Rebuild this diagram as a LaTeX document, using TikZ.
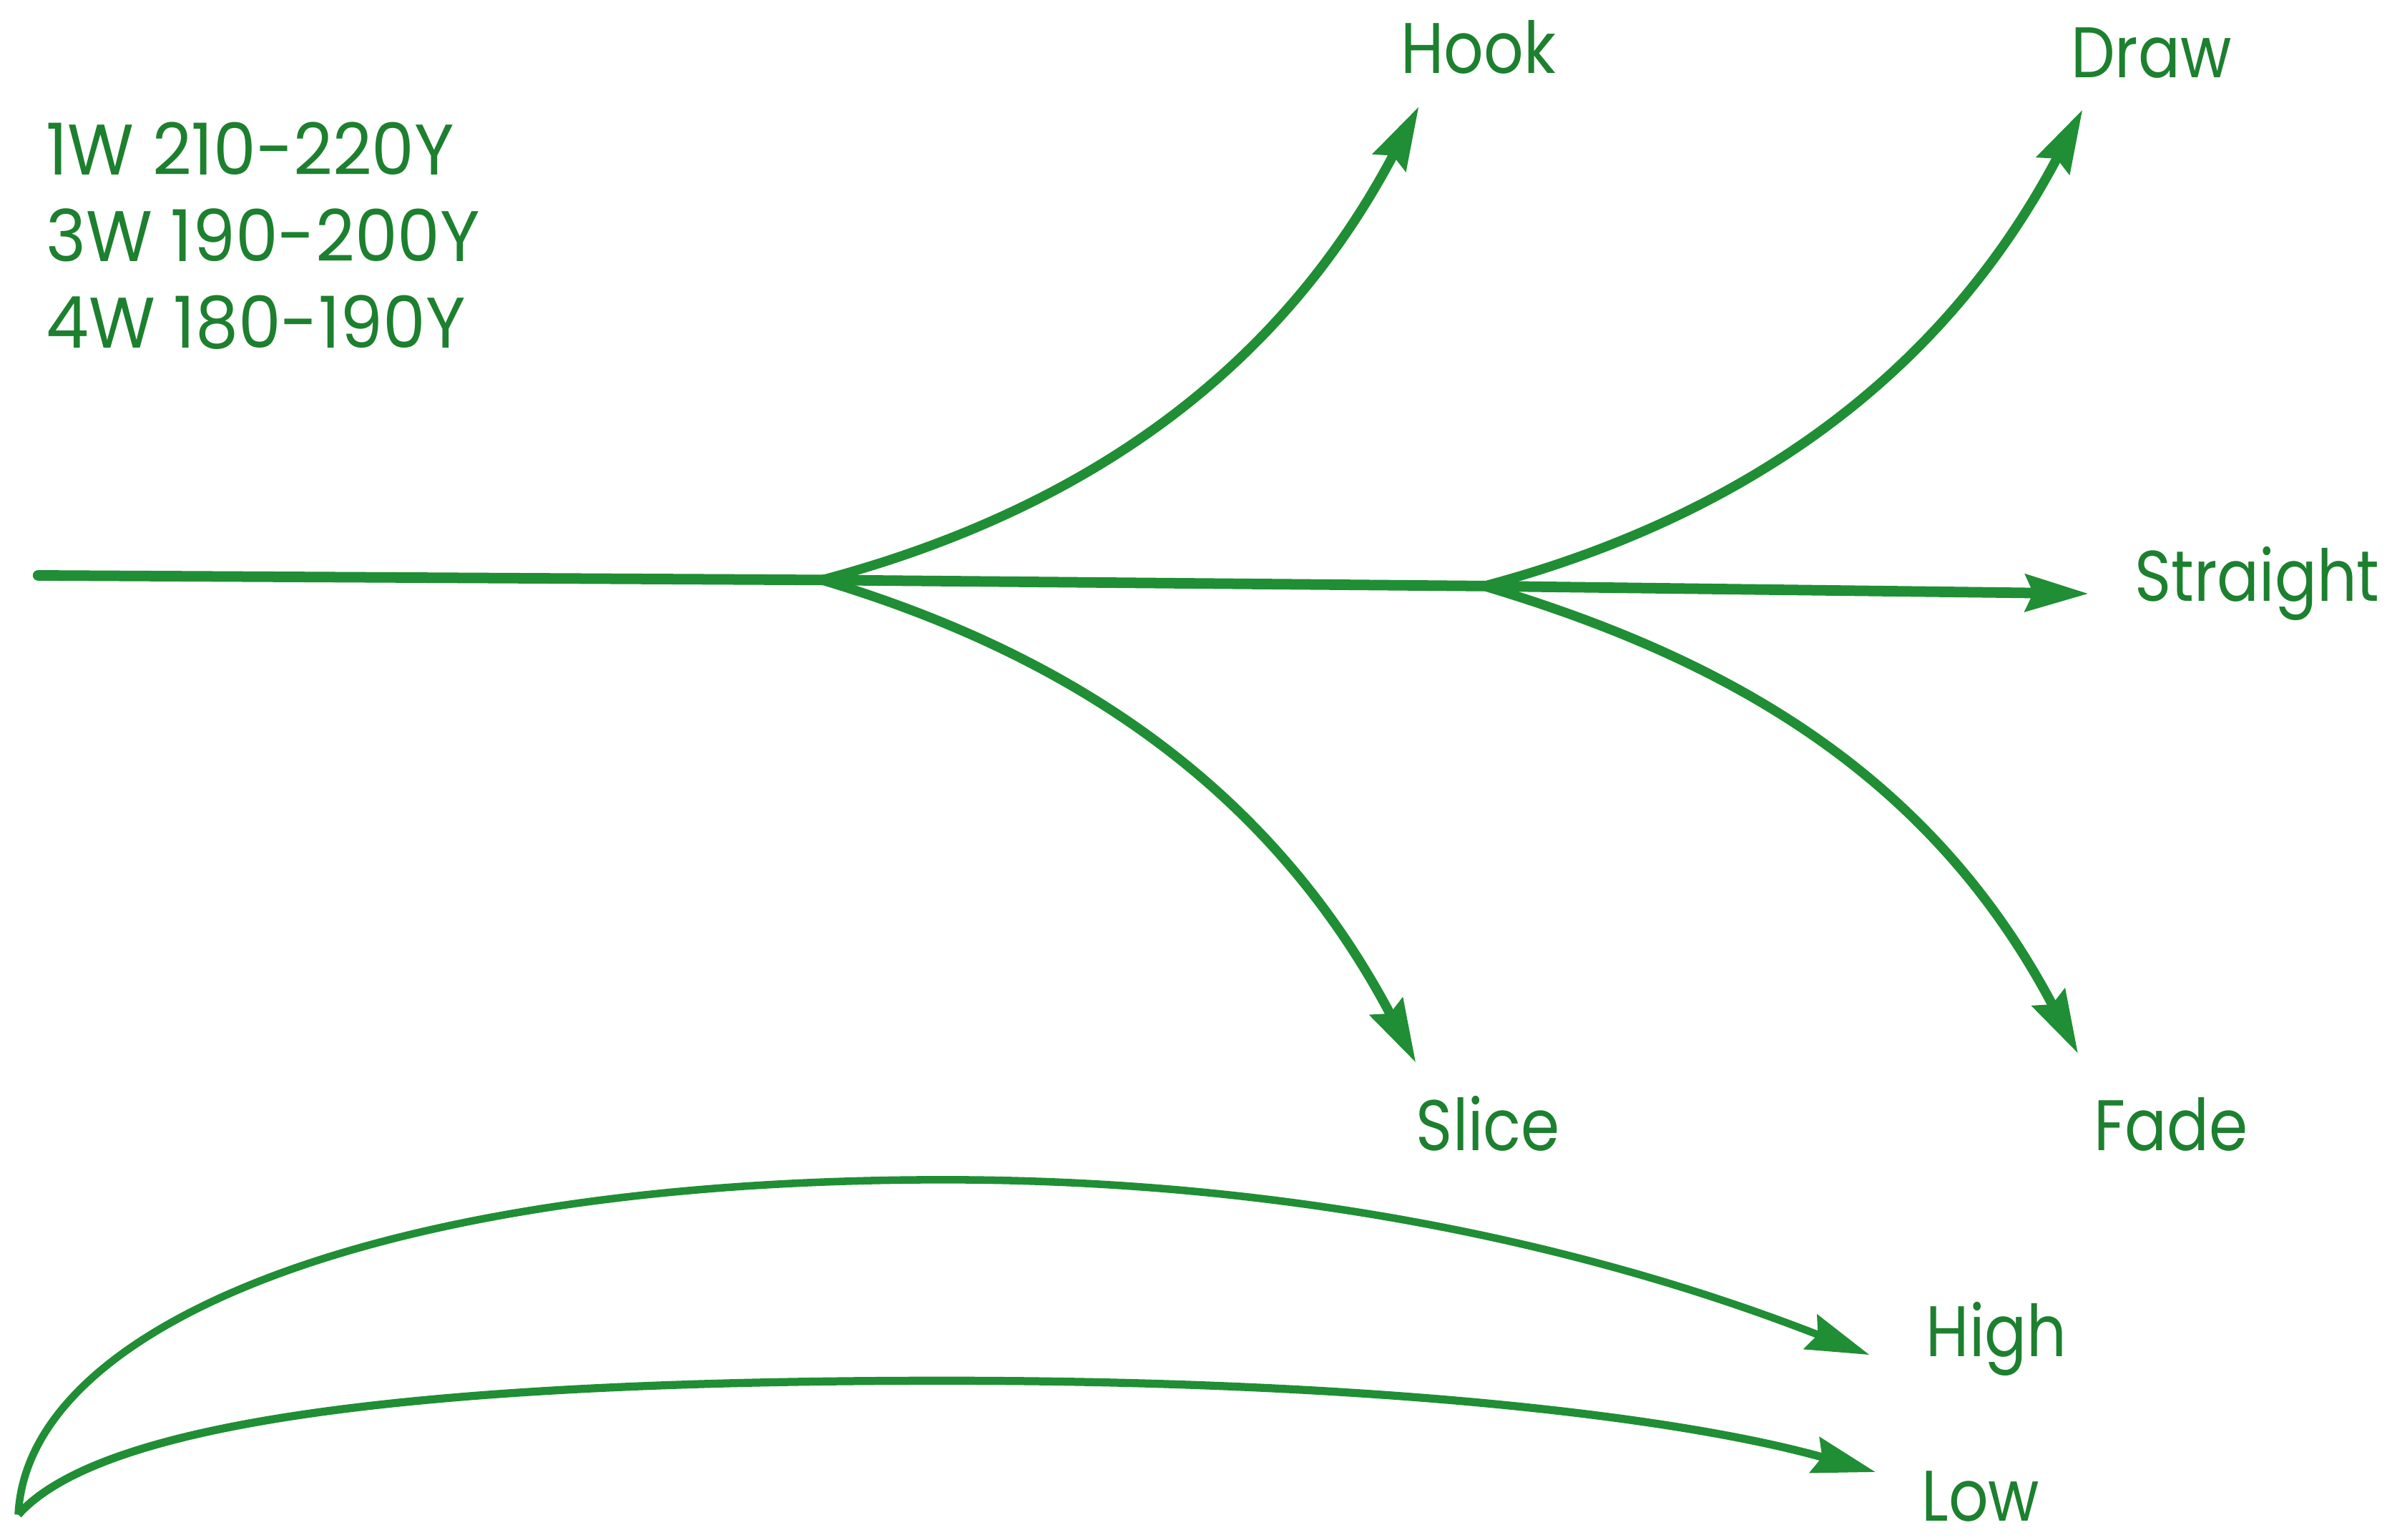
\documentclass[tikz,border=0pt]{standalone}
\usepackage{fontspec}
\setmainfont{Poppins}[FakeStretch=0.87]
\newfontfamily\ydfont{Poppins}[FakeStretch=0.95]
\usetikzlibrary{arrows.meta}
\definecolor{ln}{RGB}{32,142,52}
\definecolor{tx}{RGB}{28,128,46}
\begin{document}
\begin{tikzpicture}[x=0.02128cm,y=-0.02128cm,
  lbl/.style={text=tx, font=\fontsize{28.5}{34.4}\selectfont, inner sep=0pt},
  traj/.style={draw=ln, line width=3.8pt, -{Stealth[length=25pt,width=14.5pt,inset=3pt]}},
  flat/.style={draw=ln, line width=4.2pt, line cap=round}]
\useasboundingbox (0,0) rectangle (1568,1011.3);
% labels
\node[lbl, font=\ydfont\fontsize{28.5}{34.4}\selectfont, anchor=north west, align=left] (yd) at (30,80) {1W 210-220Y\\3W 190-200Y\\4W 180-190Y};
\node[lbl, anchor=base west] (hook) at (920,48) {Hook};
\node[lbl, anchor=base west] (draw) at (1360,51) {Draw};
\node[lbl, anchor=base west] (straight) at (1402,395) {Straight};
\node[lbl, anchor=base west] (slice) at (930,756) {Slice};
\node[lbl, anchor=base west] (fade) at (1375,756) {Fade};
\node[lbl, anchor=base west] (high) at (1265,891) {High};
\node[lbl, anchor=base west] (low) at (1262,999) {Low};
% points
\coordinate (s) at (25,378);
\coordinate (f1) at (540,381);
\coordinate (f2) at (975,385);
\coordinate (th) at (932,70);
\coordinate (tsl) at (930,698);
\coordinate (td) at (1368,72);
\coordinate (tf) at (1365,692);
\coordinate (ts) at (1372,390);
\coordinate (b) at (12,995);
\coordinate (thi) at (1228,890);
\coordinate (tlo) at (1232,967);
% main line
\draw[flat] (s) -- (f1);
\draw[traj, line width=4.2pt] (f1) -- (f2) -- (ts);
% branches
\draw[traj] (f1) .. controls +(150,-40) and +(-100,190) .. (th);
\draw[traj] (f1) .. controls +(150,45) and +(-100,-190) .. (tsl);
\draw[traj] (f2) .. controls +(150,-40) and +(-100,190) .. (td);
\draw[traj] (f2) .. controls +(150,45) and +(-100,-190) .. (tf);
% bottom
\draw[traj, line width=3pt] (b) .. controls (18,870) and (250,775) .. (620,775) .. controls (900,775) and (1100,840) .. (thi);
\draw[traj, line width=3.2pt] (b) .. controls (70,930) and (300,907) .. (620,907) .. controls (900,907) and (1100,930) .. (tlo);
\end{tikzpicture}
\end{document}
